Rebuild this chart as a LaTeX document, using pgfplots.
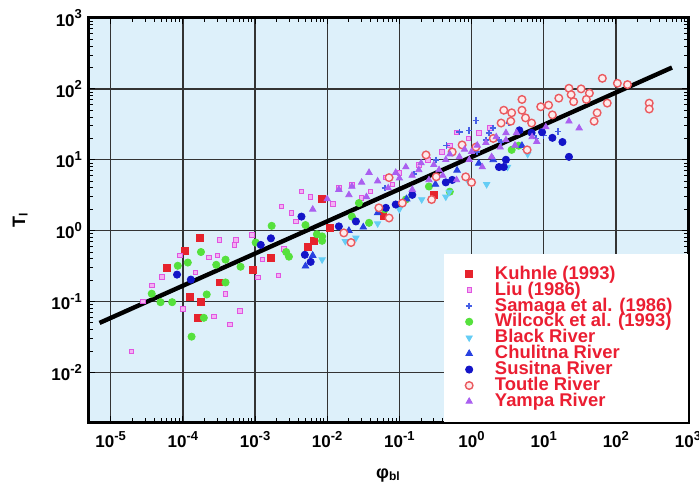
\documentclass[border=0pt]{standalone}
\usepackage{fontspec}
\setmainfont{Liberation Sans}
\usepackage{pgfplots}
\pgfplotsset{compat=1.18}

\definecolor{bgblue}{RGB}{221,240,250}
\definecolor{kred}{RGB}{230,35,45}
\definecolor{lmag}{RGB}{225,85,225}
\definecolor{sblue}{RGB}{70,95,230}
\definecolor{wgreen}{RGB}{85,225,60}
\definecolor{bcyan}{RGB}{100,205,245}
\definecolor{cblue}{RGB}{40,65,225}
\definecolor{sdblue}{RGB}{20,20,200}
\definecolor{tred}{RGB}{235,90,95}
\definecolor{ypurple}{RGB}{170,95,240}
\definecolor{legred}{RGB}{235,30,50}

\newcommand{\tp}[1]{10\raisebox{0.45em}{\fontsize{6.5}{7}\selectfont #1}}
\newcommand{\legsp}[1]{\hspace{9pt}#1\kern-5pt\relax}

\begin{document}
\begin{tikzpicture}
\begin{axis}[
  xmode=log, ymode=log,
  scale only axis, width=299.5pt, height=202pt,
  xmin=5e-6, xmax=1000, ymin=2e-3, ymax=1000,
  axis background/.style={fill=bgblue},
  axis line style={line width=1.5pt},
  grid=major, major grid style={line width=0.7pt, black!80},
  tick align=inside, major tick length=3pt, minor tick length=1.8pt,
  tick style={black, line width=0.5pt},
  xtick={1e-5,1e-4,1e-3,1e-2,1e-1,1,10,100,1000},
  xticklabels={\tp{-5},\tp{-4},\tp{-3},\tp{-2},\tp{-1},\tp{0},\tp{1},\tp{2},\tp{3}},
  ytick={1e-2,1e-1,1,10,100,1000},
  yticklabels={\tp{-2},\tp{-1},\tp{0},\tp{1},\tp{2},\tp{3}},
  tick label style={font=\bfseries\fontsize{8.5}{9}\selectfont},
  xticklabel style={yshift=-1pt},
  xlabel={φ\textsubscript{bl}}, ylabel={T\textsubscript{l}},
  label style={font=\bfseries\fontsize{9}{10}\selectfont},
  xlabel style={yshift=-3.5pt}, ylabel style={yshift=5pt},
  legend cell align=left,
  legend style={at={(1,0)}, anchor=south east, fill=white, draw=none,
    text=legred, font=\bfseries\fontsize{9.2}{10}\selectfont,
    inner xsep=10.5pt, inner ysep=4pt, row sep=-4.2pt},
  legend image code/.code={\draw[#1] plot coordinates {(0.25cm,0cm)};},
]
% Kuhnle (1993)
\addplot[only marks, mark=square*, mark size=1.7pt, draw=kred, fill=kred] coordinates {
(1.7e-4,0.79) (1.07e-4,0.52) (6.0e-5,0.30) (1.26e-4,0.117) (1.78e-4,0.098)
(1.62e-4,0.059) (3.2e-4,0.186) (9.3e-4,0.28) (1.66e-3,0.41) (5.4e-3,0.59)
(6.6e-3,0.71) (8.5e-3,2.8) (1.1e-2,1.1) (0.06,1.6) (0.3,3.2)
};
\addlegendentry{\legsp{Kuhnle (1993)}}
% Liu (1986)
\addplot[only marks, mark=square*, mark size=1.1pt, draw=lmag, fill=lmag!45] coordinates {
(1.95e-5,0.02) (3.7e-5,0.17) (5.1e-5,0.224) (9.1e-5,0.447) (1.5e-4,0.257)
(2.3e-4,0.417) (3.0e-4,0.447) (3.2e-4,0.74) (5.4e-4,0.74) (5.2e-4,0.63)
(3.9e-4,0.129) (2.7e-4,0.062) (4.5e-4,0.048) (6.2e-4,0.074) (1.1e-3,0.22)
(2.1e-3,0.234) (1.26e-3,0.39) (9.1e-4,0.87) (2.3e-3,2.2) (3.2e-3,1.78)
(4.4e-3,3.55) (5.9e-3,3.0) (3.7e-3,1.35) (1.45e-2,4.1) (2.2e-2,4.5)
(6.5e-2,5.6) (0.186,8.5) (0.39,12.9) (0.62,24.5) (1.26,24)
(2.8e-5,0.1) (1.0e-4,0.079) (2.5e-3,0.55) (0.03,2.9) (0.1,6.5)
(0.012,2.4) (0.04,3.6) (0.08,4.5) (0.25,10) (0.5,16) (1.8,28) (0.9,20)
};
\addlegendentry{\legsp{Liu (1986)}}
% Samaga et al. (1986)
\addplot[only marks, mark=+, mark size=1.6pt, draw=sblue, line width=0.8pt] coordinates {
(1.15,36) (0.93,26) (1.74,24) (0.68,24.5) (2.4,19) (1.58,19) (2.57,17.8)
(3.3,33) (4.6,24.5) (0.32,10) (0.16,6.3) (0.063,4.0) (7.9,20) (15.8,25)
(0.45,16) (2.0,28) (1.2,13) (5.5,14) (10,22) (3.8,15)
};
\addlegendentry{\legsp{Samaga et al. (1986)}}
% Wilcock et al. (1993)
\addplot[only marks, mark=*, mark size=1.8pt, draw=wgreen, fill=wgreen] coordinates {
(1.78e-4,0.50) (1.17e-4,0.355) (8.5e-5,0.32) (3.7e-5,0.129) (4.9e-5,0.098)
(7.1e-5,0.098) (2.14e-4,0.126) (3.9e-4,0.186) (1.95e-4,0.059) (1.32e-4,0.032)
(3.9e-4,0.39) (2.9e-4,0.33) (6.3e-4,0.31) (1.02e-3,0.68) (1.7e-3,1.17)
(2.7e-3,0.50) (2.95e-3,0.43) (5.0e-3,1.2) (7.2e-3,0.89) (8.5e-3,0.72)
(2.75e-2,2.45) (2.2e-2,1.58) (3.8e-2,1.29) (0.123,2.75) (0.257,4.2)
(3.6,13.8) (4.5,15.8) (8.5e-3,0.83) (0.5,3.55) (0.063,2.0)
};
\addlegendentry{\legsp{Wilcock et al. (1993)}}
% Black River
\addplot[only marks, mark=triangle*, mark size=1.8pt, mark options={rotate=180}, draw=bcyan, fill=bcyan] coordinates {
(8.5e-3,0.39) (0.204,2.75) (0.44,3.0) (1.62,4.5) (0.49,3.5) (0.025,0.79)
(0.05,1.26) (0.1,2.0) (3.16,7.9) (0.0178,0.71) (0.9,5.0) (6.0,12)
};
\addlegendentry{\legsp{Black River}}
% Chulitna River
\addplot[only marks, mark=triangle*, mark size=1.9pt, draw=cblue, fill=cblue] coordinates {
(6.3e-3,0.447) (5.0e-3,0.316) (0.02,1.0) (0.0316,1.12) (0.05,1.78)
(0.126,2.8) (0.316,4.5) (0.63,7.1) (1.26,8.9) (2.0,10) (5.0,15.8)
};
\addlegendentry{\legsp{Chulitna River}}
% Susitna River
\addplot[only marks, mark=*, mark size=1.8pt, draw=sdblue, fill=sdblue] coordinates {
(22.4,11) (18.2,17.8) (13.2,20.4) (9.5,24.5) (6.8,24) (4.6,26) (2.8,7.9)
(3.0,10) (2.4,7.9) (0.54,5.2) (0.44,4.8) (0.151,3.2) (0.089,2.34)
(0.065,2.1) (0.025,1.35) (0.0145,1.15) (1.66e-3,0.78) (1.2e-3,0.63)
(4.4e-3,1.58) (4.9e-3,0.457) (5.9e-3,0.363) (8.3e-5,0.24) (1.29e-4,0.204)
};
\addlegendentry{\legsp{Susitna River}}
% Toutle River
\addplot[only marks, mark=*, mark size=1.9pt, draw=tred, fill=tred!12, line width=0.7pt] coordinates {
(65,141) (105,120) (145,115) (290,63) (290,52) (22.4,102) (33,100) (43,87)
(24,83) (16.2,74) (26,66) (39,71) (76,63) (11.7,59) (9.1,56) (5.0,71)
(5.0,50) (2.8,50) (3.6,46) (3.5,35) (6.8,33) (13.2,43) (55,46) (50,35)
(5.9,13.8) (5.6,39) (2.57,33) (1.15,15.1) (0.74,16.2) (0.54,12.9)
(0.234,11.7) (0.83,5.75) (1.0,4.8) (0.324,5.75) (0.072,5.6) (0.28,2.75)
(0.072,1.51) (0.052,2.1) (0.0214,0.68) (0.017,0.93) (0.11,2.45) (2.0,20)
};
\addlegendentry{\legsp{Toutle River}}
% Yampa River
\addplot[only marks, mark=triangle*, mark size=1.8pt, draw=ypurple, fill=ypurple] coordinates {
(0.038,6.6) (0.022,4.2) (0.0145,3.8) (0.089,6.6) (0.123,7.9) (0.186,7.2)
(0.355,7.2) (0.44,10) (0.68,11) (0.93,10) (1.58,17.4) (2.2,21) (1.41,7.9)
(3.0,24) (1.9,11) (0.62,5.2) (0.257,5.2) (0.151,3.8) (0.035,3.0) (3.0,19)
(4.2,24) (6.9,21) (10.7,29) (22.4,35) (31,28) (0.01,2.8) (6.3e-3,2.0)
(0.02,3.2) (0.03,4.8) (0.05,5.0) (0.07,4.0) (0.1,5.5) (0.2,9.0) (0.3,8.5)
(0.5,12) (0.8,14) (1.0,13) (1.2,16) (2.5,15) (4.0,16) (8.0,18) (0.15,6.0) (0.4,6.0)
};
\addlegendentry{\legsp{Yampa River}}
% fitted relation
\addplot[black, line width=2.2pt, forget plot] coordinates {(7e-6,0.05) (600,200)};
\end{axis}
\pgfresetboundingbox
\useasboundingbox ([xshift=-44.5pt,yshift=-32.5pt]current axis.south west)
  rectangle ([xshift=5.5pt,yshift=9pt]current axis.north east);
\end{tikzpicture}
\end{document}
